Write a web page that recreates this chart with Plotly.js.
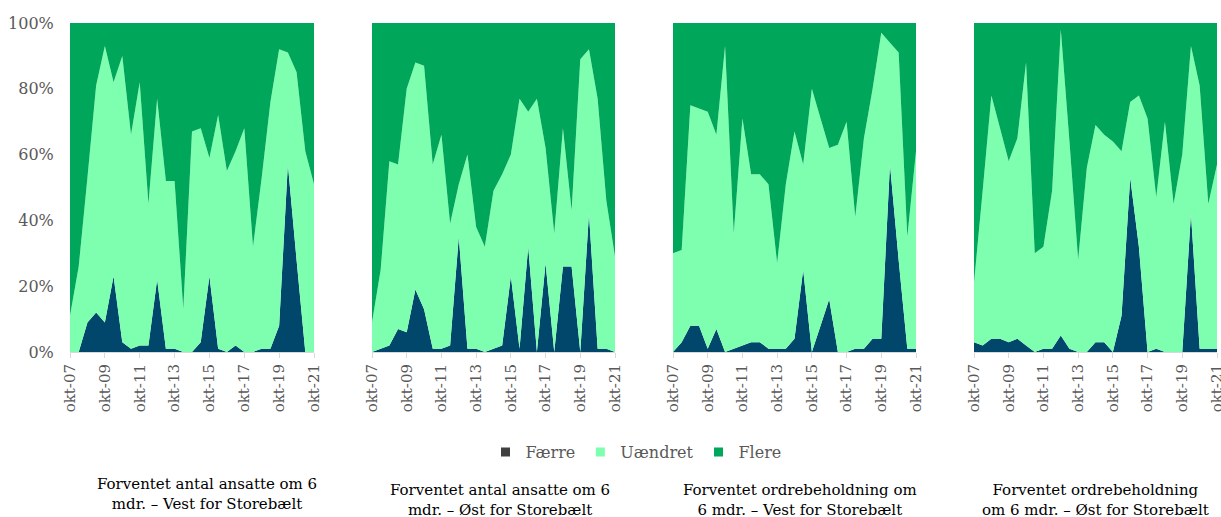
<!DOCTYPE html>
<html>
<head>
<meta charset="utf-8">
<script src="https://cdn.plot.ly/plotly-3.0.1.min.js"></script>
<style>html,body{margin:0;padding:0;background:#fff;}#chart{width:1221px;height:517px;}</style>
</head>
<body>
<div id="chart"></div>
<script>
// Semi-annual survey rounds, okt-07 .. okt-21
const categories = ["okt-07","apr-08","okt-08","apr-09","okt-09","apr-10","okt-10","apr-11","okt-11","apr-12","okt-12","apr-13","okt-13","apr-14","okt-14","apr-15","okt-15","apr-16","okt-16","apr-17","okt-17","apr-18","okt-18","apr-19","okt-19","apr-20","okt-20","apr-21","okt-21"];
const tickLabels = ["okt-07","okt-09","okt-11","okt-13","okt-15","okt-17","okt-19","okt-21"];
const yTickVals = [0,20,40,60,80,100];
const yTickText = ["0%","20%","40%","60%","80%","100%"];
const seriesNames = ["Færre","Uændret","Flere"];
const panelTitles = [
  "Forventet antal ansatte om 6<br>mdr. – Vest for Storebælt",
  "Forventet antal ansatte om 6<br>mdr. – Øst for Storebælt",
  "Forventet ordrebeholdning om<br>6 mdr. – Vest for Storebælt",
  "Forventet ordrebeholdning<br>om 6 mdr. – Øst for Storebælt"
];

// Panel 1: ansatte, Vest
const faerre1  = [0,0,9,12,9,23,3,1,2,2,22,1,1,0,0,3,23,1,0,2,0,0,1,1,8,57,28,0,0];
const uaendret1= [11,26,44,69,84,59,87,65,80,43,55,51,51,13,67,65,36,71,55,59,68,32,52,75,84,34,57,61,51];
const flere1   = [89,74,47,19,7,18,10,34,18,55,23,48,48,87,33,32,41,28,45,39,32,68,47,24,8,9,15,39,49];
// Panel 2: ansatte, Øst
const faerre2  = [0,1,2,7,6,19,13,1,1,2,35,1,1,0,1,2,23,1,32,0,27,0,26,26,0,42,1,1,0];
const uaendret2= [9,24,56,50,74,69,74,56,65,37,16,59,37,32,48,52,37,76,41,77,35,36,42,17,89,50,76,45,29];
const flere2   = [91,75,42,43,20,12,13,43,34,61,49,40,62,68,51,46,40,23,27,23,38,64,32,57,11,8,23,54,71];
// Panel 3: ordrebeholdning, Vest
const faerre3  = [0,3,8,8,1,7,0,1,2,3,3,1,1,1,4,25,0,8,16,0,0,1,1,4,4,57,28,1,1];
const uaendret3= [30,28,67,66,72,59,93,35,69,51,51,50,26,50,63,32,80,63,46,63,70,40,64,76,93,37,63,34,60];
const flere3   = [70,69,25,26,27,34,7,64,29,46,46,49,73,49,33,43,20,29,38,37,30,59,35,20,3,6,9,65,39];
// Panel 4: ordrebeholdning, Øst
const faerre4  = [3,2,4,4,3,4,2,0,1,1,5,1,0,0,3,3,0,11,53,32,0,1,0,0,0,42,1,1,1];
const uaendret4= [18,47,74,64,55,61,86,30,31,48,93,63,28,56,66,63,64,50,23,46,71,46,70,45,60,51,80,44,56];
const flere4   = [79,51,22,32,42,35,12,70,68,51,2,36,72,44,31,34,36,39,24,22,29,53,30,55,40,7,19,55,43];

const panels = [
  [faerre1,uaendret1,flere1],
  [faerre2,uaendret2,flere2],
  [faerre3,uaendret3,flere3],
  [faerre4,uaendret4,flere4]
];
const colors = ["#00476B","#7DFFAF","#00A65A"];
const legendColors = ["#404040","#7DFFAF","#00A65A"];
const W = 1221, H = 517;
const plotX = [[70,314],[372,615],[673,916],[974,1217]];
const titleX = [207,500,800,1095];
const titleY = [494,500,500,500];
const FONT = "DejaVu Serif, Georgia, serif";
const GRAY = "#595959";

const traces = [];
panels.forEach((p, i) => {
  const xa = i === 0 ? "x" : "x" + (i + 1);
  p.forEach((vals, s) => {
    traces.push({
      x: categories, y: vals, type: "scatter", mode: "none",
      stackgroup: "p" + i, fillcolor: colors[s], line: {width: 0},
      name: seriesNames[s], showlegend: false,
      xaxis: xa, yaxis: "y", hoverinfo: "skip"
    });
  });
});
// legend-only entries with small square keys
seriesNames.forEach((n, s) => {
  traces.push({
    x: [categories[0]], y: [null], type: "scatter", mode: "markers",
    marker: {symbol: "square", size: 9, color: legendColors[s]},
    name: n, showlegend: true, xaxis: "x", yaxis: "y", hoverinfo: "skip"
  });
});

const layout = {
  width: W, height: H,
  margin: {l: 0, r: 0, t: 0, b: 0},
  paper_bgcolor: "#fff", plot_bgcolor: "#fff",
  font: {family: FONT, color: GRAY, size: 14},
  showlegend: true,
  legend: {orientation: "h", x: 636 / W, xanchor: "center", y: 1 - 452 / H, yanchor: "middle",
           font: {family: FONT, size: 16, color: GRAY}, traceorder: "normal", itemwidth: 30},
  yaxis: {domain: [1 - 352 / H, 1 - 23 / H], range: [0, 100], tickvals: yTickVals, ticktext: yTickText,
          showgrid: false, zeroline: false, showline: false,
          ticks: "outside", ticklen: 12, tickcolor: "rgba(0,0,0,0)",
          tickfont: {family: FONT, size: 16, color: GRAY}, anchor: "x"},
  annotations: []
};
plotX.forEach((px, i) => {
  const key = i === 0 ? "xaxis" : "xaxis" + (i + 1);
  layout[key] = {
    domain: [px[0] / W, px[1] / W], anchor: "y", type: "category",
    categoryorder: "array", categoryarray: categories,
    range: [0, categories.length - 1],
    tickvals: tickLabels, ticktext: tickLabels, tickangle: -90,
    showgrid: false, zeroline: false, showline: true, linecolor: "#D9D9D9", linewidth: 1,
    ticks: "outside", ticklen: 5, tickcolor: "#D9D9D9",
    tickfont: {family: FONT, size: 15, color: GRAY}
  };
  layout.annotations.push({
    xref: "paper", yref: "paper", x: titleX[i] / W, y: 1 - titleY[i] / H,
    xanchor: "center", yanchor: "middle", showarrow: false, align: "center",
    text: panelTitles[i], font: {family: FONT, size: 15, color: "#000"}
  });
});

Plotly.newPlot("chart", traces, layout, {displayModeBar: false, staticPlot: true});
</script>
</body>
</html>
